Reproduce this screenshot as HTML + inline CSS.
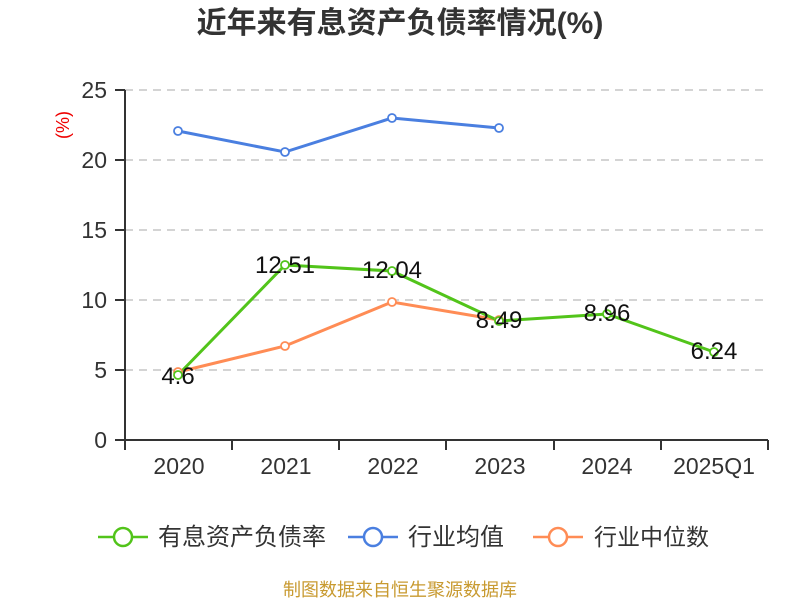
<!DOCTYPE html><html><head><meta charset="utf-8"><style>body{margin:0;background:#fff}svg{display:block}</style></head><body>
<svg width="800" height="600" xmlns="http://www.w3.org/2000/svg" font-family="Liberation Sans, Noto Sans CJK SC, sans-serif">
<text x="400" y="33" text-anchor="middle" font-size="30" font-weight="bold" fill="#333">近年来有息资产负债率情况(%)</text>
<text transform="translate(69,125) rotate(-90)" text-anchor="middle" font-size="18" fill="#e00">(%)</text>
<g stroke="#bbb" stroke-dasharray="8,6" stroke-width="1.3">
<line x1="125" y1="90" x2="768" y2="90"/><line x1="125" y1="160" x2="768" y2="160"/><line x1="125" y1="230" x2="768" y2="230"/><line x1="125" y1="300" x2="768" y2="300"/><line x1="125" y1="370" x2="768" y2="370"/></g>
<g stroke="#333" stroke-width="2">
<line x1="125" y1="90" x2="125" y2="440"/><line x1="125" y1="440" x2="768" y2="440"/>
<line x1="115" y1="90" x2="125" y2="90"/><line x1="115" y1="160" x2="125" y2="160"/><line x1="115" y1="230" x2="125" y2="230"/><line x1="115" y1="300" x2="125" y2="300"/><line x1="115" y1="370" x2="125" y2="370"/><line x1="115" y1="440" x2="125" y2="440"/>
<line x1="125" y1="440" x2="125" y2="450"/><line x1="232" y1="440" x2="232" y2="450"/><line x1="339" y1="440" x2="339" y2="450"/><line x1="446" y1="440" x2="446" y2="450"/><line x1="554" y1="440" x2="554" y2="450"/><line x1="661" y1="440" x2="661" y2="450"/><line x1="768" y1="440" x2="768" y2="450"/></g>
<g font-size="23" fill="#333" text-anchor="end"><text x="107" y="98">25</text><text x="107" y="168">20</text><text x="107" y="238">15</text><text x="107" y="308">10</text><text x="107" y="378">5</text><text x="107" y="448">0</text></g>
<g font-size="23" fill="#333" text-anchor="middle"><text x="179" y="474">2020</text><text x="286" y="474">2021</text><text x="393" y="474">2022</text><text x="500" y="474">2023</text><text x="607" y="474">2024</text><text x="714" y="474">2025Q1</text></g>
<g fill="none" stroke-width="3">
<polyline stroke="#4a7fe0" points="178,131 285,152 392,118 499,128"/>
<polyline stroke="#ff8c55" points="178,372 285,346 392,302 499,320"/>
<polyline stroke="#52c41a" points="178,375 285,265 392,271 499,321 607,314 714,352"/></g>
<g fill="#fff" stroke-width="1.8">
<g stroke="#4a7fe0"><circle cx="178" cy="131" r="4"/><circle cx="285" cy="152" r="4"/><circle cx="392" cy="118" r="4"/><circle cx="499" cy="128" r="4"/></g>
<g stroke="#ff8c55"><circle cx="178" cy="372" r="4"/><circle cx="285" cy="346" r="4"/><circle cx="392" cy="302" r="4"/><circle cx="499" cy="320" r="4"/></g>
<g stroke="#52c41a"><circle cx="178" cy="375" r="4"/><circle cx="285" cy="265" r="4"/><circle cx="392" cy="271" r="4"/><circle cx="499" cy="321" r="4"/><circle cx="607" cy="314" r="4"/><circle cx="714" cy="352" r="4"/></g></g>
<g font-size="24" fill="#111" text-anchor="middle"><text x="178" y="384">4.6</text><text x="285" y="273">12.51</text><text x="392" y="278">12.04</text><text x="499" y="328">8.49</text><text x="607" y="321">8.96</text><text x="714" y="359">6.24</text></g>
<g stroke-width="2.5" fill="#fff">
<line x1="98" y1="537" x2="148" y2="537" stroke="#52c41a"/><circle cx="123" cy="537" r="9" stroke="#52c41a"/>
<line x1="348" y1="537" x2="398" y2="537" stroke="#4a7fe0"/><circle cx="373" cy="537" r="9" stroke="#4a7fe0"/>
<line x1="533" y1="537" x2="583" y2="537" stroke="#ff8c55"/><circle cx="558" cy="537" r="9" stroke="#ff8c55"/></g>
<g font-size="24" fill="#333"><text x="158" y="545">有息资产负债率</text><text x="408" y="545">行业均值</text><text x="594" y="545" font-size="23">行业中位数</text></g>
<text x="400" y="596" text-anchor="middle" font-size="18" fill="#c89a30">制图数据来自恒生聚源数据库</text>
</svg></body></html>
